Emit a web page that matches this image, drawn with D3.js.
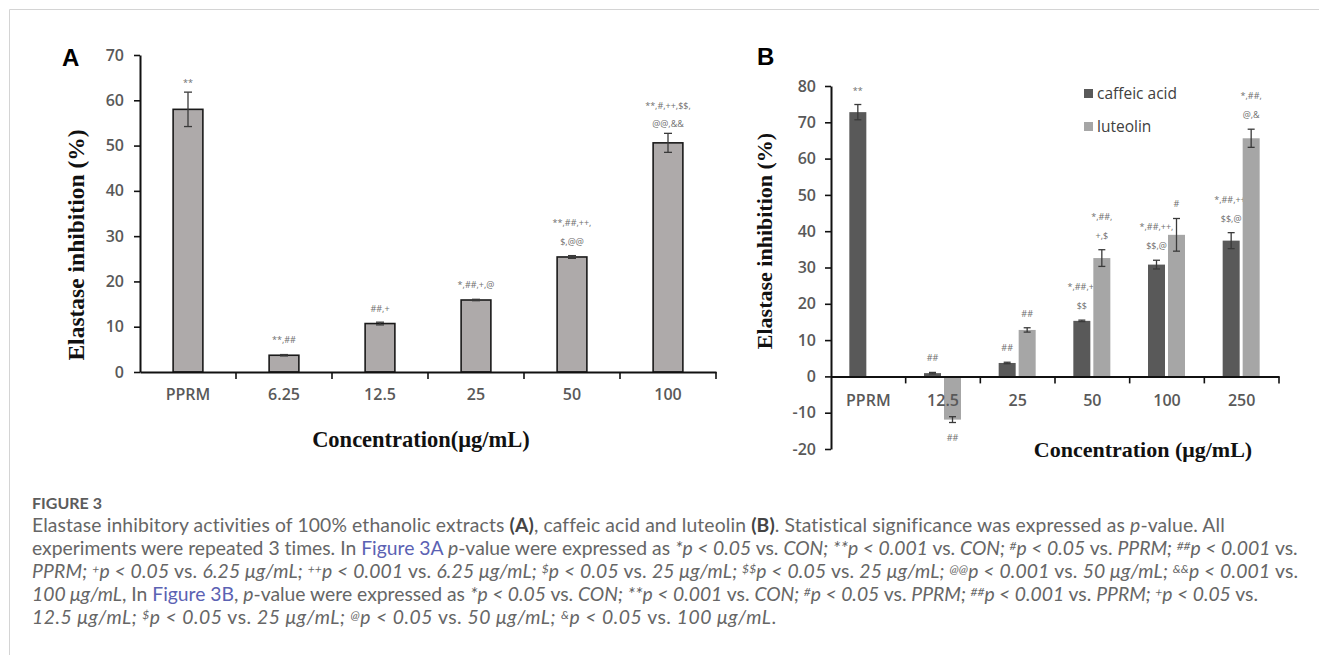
<!DOCTYPE html>
<html><head><meta charset="utf-8">
<script src="https://cdn.jsdelivr.net/npm/d3@7"></script>
<style>body{margin:0;background:#fff;} svg{display:block;} text{white-space:pre;}</style>
</head><body>
<svg id="c" width="1319" height="655"></svg>
<script>
// ---------- Panel A data ----------
const catsA = ["PPRM", "6.25", "12.5", "25", "50", "100"];
const valsA = [58.0, 3.7, 10.7, 15.9, 25.4, 50.6];
const errA  = [3.8, 0.15, 0.3, 0.15, 0.3, 2.1];
const annA  = [["**"], ["**,##"], ["##,+"], ["*,##,+,@"], ["**,##,++,", "$,@@"], ["**,#,++,$$,", "@@,&&"]];
const ticksA = [0, 10, 20, 30, 40, 50, 60, 70];

// ---------- Panel B data ----------
const catsB = ["PPRM", "12.5", "25", "50", "100", "250"];
const seriesB = ["caffeic acid", "luteolin"];
const caffeic    = [72.8, 0.9, 3.7, 15.3, 30.8, 37.4];
const caffeicErr = [2.1, 0.2, 0.2, 0.2, 1.2, 2.2];
const luteolin    = [null, -11.9, 12.8, 32.6, 39.0, 65.6];
const luteolinErr = [null, 0.8, 0.6, 2.3, 4.5, 2.5];
const annCaffeic  = [["**"], ["##"], ["##"], ["*,##,+,", "$$"], ["*,##,++,", "$$,@"], ["*,##,++,", "$$,@"]];
const annLuteolin = [null, ["##"], ["##"], ["*,##,", "+,$"], ["#"], ["*,##,", "@,&"]];
const ticksB = [-20, -10, 0, 10, 20, 30, 40, 50, 60, 70, 80];

const captionLines = [
  "Elastase inhibitory activities of 100% ethanolic extracts {(A)}, caffeic acid and luteolin {(B)}. Statistical significance was expressed as _p_-value. All",
  "experiments were repeated 3 times. In [Figure 3A] _p_-value were expressed as _*p < 0.05_ vs. _CON; **p < 0.001_ vs. _CON; ^#^p < 0.05_ vs. _PPRM; ^##^p < 0.001_ vs.",
  "_PPRM; ^+^p < 0.05_ vs. _6.25 μg/mL; ^++^p < 0.001_ vs. _6.25 μg/mL; ^$^p < 0.05_ vs. _25 μg/mL; ^$$^p < 0.05_ vs. _25 μg/mL; ^@@^p < 0.001_ vs. _50 μg/mL; ^&&^p < 0.001_ vs.",
  "_100 μg/mL_, In [Figure 3B], _p_-value were expressed as _*p < 0.05_ vs. _CON; **p < 0.001_ vs. _CON; ^#^p < 0.05_ vs. _PPRM; ^##^p < 0.001_ vs. _PPRM; ^+^p < 0.05_ vs.",
  "_12.5 μg/mL; ^$^p < 0.05_ vs. _25 μg/mL; ^@^p < 0.05_ vs. _50 μg/mL; ^&^p < 0.05_ vs. _100 μg/mL_."
];

const svg = d3.select("#c");
const TICKFONT = "'Open Sans', 'Noto Sans', sans-serif";
const SERIF = "'Times New Roman', 'Liberation Serif', serif";
const plainFmt = d => String(d);

// frame
svg.append("line").attr("x1", 9.5).attr("y1", 9.5).attr("x2", 1319).attr("y2", 9.5).attr("stroke", "#d4d4d4");
svg.append("line").attr("x1", 9.5).attr("y1", 9.5).attr("x2", 9.5).attr("y2", 655).attr("stroke", "#d4d4d4");

function styleAxis(g, size) {
  g.select(".domain").attr("stroke", "#111").attr("stroke-width", 2);
  g.selectAll(".tick line").attr("stroke", "#111").attr("stroke-width", 1.6);
  g.selectAll(".tick text").attr("fill", "#595959").attr("font-family", TICKFONT)
    .attr("font-weight", 600).attr("font-size", size);
}

// ================= Panel A =================
const xA = d3.scaleBand().domain(catsA).range([140, 716]).padding(0);
const yA = d3.scaleLinear().domain([0, 70]).range([372, 55]);
const gA = svg.append("g");
const bwA = xA.bandwidth() * 0.31;
const cA = d => xA(d) + xA.bandwidth() / 2;

gA.selectAll("rect.bar").data(catsA).join("rect").attr("class", "bar")
  .attr("x", d => cA(d) - bwA / 2)
  .attr("y", (d, i) => yA(valsA[i]))
  .attr("width", bwA)
  .attr("height", (d, i) => yA(0) - yA(valsA[i]))
  .attr("fill", "#aeaaaa").attr("stroke", "#1a1a1a").attr("stroke-width", 1.6);

// error bars
const eA = gA.selectAll("g.err").data(catsA).join("g").attr("class", "err")
  .attr("stroke", "#3a3a3a").attr("stroke-width", 1.3);
eA.append("line").attr("x1", d => cA(d)).attr("x2", d => cA(d))
  .attr("y1", (d, i) => yA(valsA[i] - errA[i])).attr("y2", (d, i) => yA(valsA[i] + errA[i]));
eA.append("line").attr("x1", d => cA(d) - 4).attr("x2", d => cA(d) + 4)
  .attr("y1", (d, i) => yA(valsA[i] + errA[i])).attr("y2", (d, i) => yA(valsA[i] + errA[i]));
eA.append("line").attr("x1", d => cA(d) - 4).attr("x2", d => cA(d) + 4)
  .attr("y1", (d, i) => yA(valsA[i] - errA[i])).attr("y2", (d, i) => yA(valsA[i] - errA[i]));

// annotations
catsA.forEach((d, i) => {
  const lines = annA[i];
  const base = Math.min(yA(valsA[i]) - 12, yA(valsA[i] + errA[i]) - 6);
  lines.forEach((t, k) => {
    gA.append("text").attr("x", cA(d)).attr("y", base - (lines.length - 1 - k) * 18.5)
      .attr("text-anchor", "middle").attr("font-family", TICKFONT).attr("font-size", 9)
      .attr("fill", "#6e6e6e").text(t);
  });
});

// axes
const axA_y = gA.append("g").attr("transform", "translate(140,0)")
  .call(d3.axisLeft(yA).tickValues(ticksA).tickSize(6).tickSizeOuter(0).tickPadding(10).tickFormat(plainFmt));
styleAxis(axA_y, 16);
const axA_x = gA.append("g").attr("transform", "translate(0,372)")
  .call(d3.axisBottom(xA).tickSize(0).tickSizeOuter(0).tickPadding(17));
styleAxis(axA_x, 16);
gA.selectAll("line.bt").data(catsA).join("line").attr("class", "bt")
  .attr("x1", d => xA(d) + xA.bandwidth()).attr("x2", d => xA(d) + xA.bandwidth())
  .attr("y1", 372).attr("y2", 379).attr("stroke", "#111").attr("stroke-width", 1.6);

// titles
gA.append("text").attr("x", 62).attr("y", 66).attr("font-family", "Arial, 'Liberation Sans', sans-serif")
  .attr("font-weight", 700).attr("font-size", 24).attr("fill", "#000").text("A");
gA.append("text").attr("x", 421).attr("y", 447).attr("text-anchor", "middle")
  .attr("font-family", SERIF).attr("font-weight", 700).attr("font-size", 22.5).attr("fill", "#111")
  .text("Concentration(μg/mL)");
gA.append("text").attr("transform", "translate(84,245) rotate(-90)").attr("text-anchor", "middle")
  .attr("font-family", SERIF).attr("font-weight", 700).attr("font-size", 23.5).attr("fill", "#111")
  .text("Elastase inhibition (%)");

// ================= Panel B =================
const xB = d3.scaleBand().domain(catsB).range([831, 1279]).padding(0);
const xB1 = d3.scaleBand().domain(seriesB).range([-19, 18]).paddingInner(0.15).paddingOuter(0);
const yB = d3.scaleLinear().domain([-20, 80]).range([449, 86]);
const gB = svg.append("g");
const colorsB = { "caffeic acid": "#595959", "luteolin": "#a6a6a6" };
const cB = d => xB(d) + xB.bandwidth() / 2;

const seriesData = [
  { key: "caffeic acid", vals: caffeic, errs: caffeicErr, ann: annCaffeic },
  { key: "luteolin", vals: luteolin, errs: luteolinErr, ann: annLuteolin }
];

seriesData.forEach(s => {
  const pts = catsB.map((c, i) => ({ c, v: s.vals[i], e: s.errs[i], a: s.ann[i] })).filter(p => p.v !== null);
  const xc = p => cB(p.c) + xB1(s.key) + xB1.bandwidth() / 2;
  gB.selectAll(null).data(pts).join("rect")
    .attr("x", p => cB(p.c) + xB1(s.key))
    .attr("y", p => Math.min(yB(p.v), yB(0)))
    .attr("width", xB1.bandwidth())
    .attr("height", p => Math.abs(yB(0) - yB(p.v)))
    .attr("fill", colorsB[s.key]);
  const eg = gB.selectAll(null).data(pts).join("g").attr("stroke", "#3a3a3a").attr("stroke-width", 1.3);
  eg.append("line").attr("x1", xc).attr("x2", xc).attr("y1", p => yB(p.v - p.e)).attr("y2", p => yB(p.v + p.e));
  eg.append("line").attr("x1", p => xc(p) - 3.5).attr("x2", p => xc(p) + 3.5).attr("y1", p => yB(p.v + p.e)).attr("y2", p => yB(p.v + p.e));
  eg.append("line").attr("x1", p => xc(p) - 3.5).attr("x2", p => xc(p) + 3.5).attr("y1", p => yB(p.v - p.e)).attr("y2", p => yB(p.v - p.e));
  pts.forEach(p => {
    if (!p.a) return;
    if (p.v >= 0) {
      const base = yB(p.v + p.e) - 11;
      p.a.forEach((t, k) => {
        gB.append("text").attr("x", xc(p)).attr("y", base - (p.a.length - 1 - k) * 19)
          .attr("text-anchor", "middle").attr("font-family", TICKFONT).attr("font-size", 9)
          .attr("fill", "#6e6e6e").text(t);
      });
    } else {
      const base = yB(p.v - p.e) + 18;
      p.a.forEach((t, k) => {
        gB.append("text").attr("x", xc(p)).attr("y", base + k * 19)
          .attr("text-anchor", "middle").attr("font-family", TICKFONT).attr("font-size", 9)
          .attr("fill", "#6e6e6e").text(t);
      });
    }
  });
});

const axB_y = gB.append("g").attr("transform", "translate(831,0)")
  .call(d3.axisLeft(yB).tickValues(ticksB).tickSize(6).tickSizeOuter(0).tickPadding(9).tickFormat(plainFmt));
styleAxis(axB_y, 16);
const axB_x = gB.append("g").attr("transform", `translate(0,${yB(0)})`)
  .call(d3.axisBottom(xB).tickSize(0).tickSizeOuter(0).tickPadding(18));
styleAxis(axB_x, 16);
gB.selectAll("line.bt").data(catsB).join("line").attr("class", "bt")
  .attr("x1", d => xB(d) + xB.bandwidth()).attr("x2", d => xB(d) + xB.bandwidth())
  .attr("y1", yB(0)).attr("y2", yB(0) + 7).attr("stroke", "#111").attr("stroke-width", 1.6);

// legend
seriesB.forEach((k, i) => {
  gB.append("rect").attr("x", 1084).attr("y", 89 + i * 33).attr("width", 9).attr("height", 9).attr("fill", colorsB[k]);
  gB.append("text").attr("x", 1097).attr("y", 99 + i * 33).attr("font-family", TICKFONT)
    .attr("font-size", 15.5).attr("fill", "#404040").text(k);
});

gB.append("text").attr("x", 757).attr("y", 65).attr("font-family", "Arial, 'Liberation Sans', sans-serif")
  .attr("font-weight", 700).attr("font-size", 24).attr("fill", "#000").text("B");
gB.append("text").attr("x", 1143).attr("y", 457).attr("text-anchor", "middle")
  .attr("font-family", SERIF).attr("font-weight", 700).attr("font-size", 22).attr("fill", "#111")
  .text("Concentration (μg/mL)");
gB.append("text").attr("transform", "translate(772,241) rotate(-90)").attr("text-anchor", "middle")
  .attr("font-family", SERIF).attr("font-weight", 700).attr("font-size", 22).attr("fill", "#111")
  .text("Elastase inhibition (%)");

// ================= Caption =================
const CAPFONT = "Lato, 'Open Sans', sans-serif";
svg.append("text").attr("x", 32).attr("y", 509).attr("font-family", CAPFONT).attr("font-weight", 700)
  .attr("font-size", 16).attr("fill", "#5c5c5c").text("FIGURE 3");

function parseRich(s) {
  const runs = []; const cur = { t: "", i: false, b: false, sup: false, link: false };
  const push = () => { if (cur.t) runs.push({ ...cur }); cur.t = ""; };
  for (const ch of s) {
    if (ch === "_") { push(); cur.i = !cur.i; }
    else if (ch === "^") { push(); cur.sup = !cur.sup; }
    else if (ch === "{") { push(); cur.b = true; }
    else if (ch === "}") { push(); cur.b = false; }
    else if (ch === "[") { push(); cur.link = true; }
    else if (ch === "]") { push(); cur.link = false; }
    else cur.t += ch;
  }
  push(); return runs;
}
const capNodes = [];
const capChars = [];
captionLines.forEach((line, li) => {
  const t = svg.append("text").attr("x", 32).attr("y", 532 + li * 23.1)
    .attr("font-family", CAPFONT).attr("font-size", 16).attr("fill", "#666");
  let prevSup = false, n = 0;
  parseRich(line).forEach(r => {
    n += r.t.length;
    const ts = t.append("tspan").text(r.t)
      .attr("font-style", r.i ? "italic" : "normal")
      .attr("font-weight", r.b ? 700 : 400)
      .attr("fill", r.link ? "#5b62b3" : (r.b ? "#444" : "#666"));
    if (r.sup) ts.attr("font-size", "0.62em");
    if (r.sup && !prevSup) ts.attr("dy", -5);
    if (!r.sup && prevSup) ts.attr("dy", 5);
    prevSup = r.sup;
  });
  capNodes.push(t); capChars.push(n);
});
// fit font size so line 2 spans the measured width, then fine-tune each line's spacing
const w2 = capNodes[1].node().getComputedTextLength();
const fs = 16 * (1298 - 32) / w2;
capNodes.forEach(t => t.attr("font-size", fs));
const lineEnds = [1225, 1298, 1298, 1258, 776];
capNodes.forEach((t, i) => {
  const w = t.node().getComputedTextLength();
  const ls = (lineEnds[i] - 32 - w) / Math.max(1, capChars[i] - 1);
  t.attr("letter-spacing", ls.toFixed(3));
});
</script>
</body></html>
